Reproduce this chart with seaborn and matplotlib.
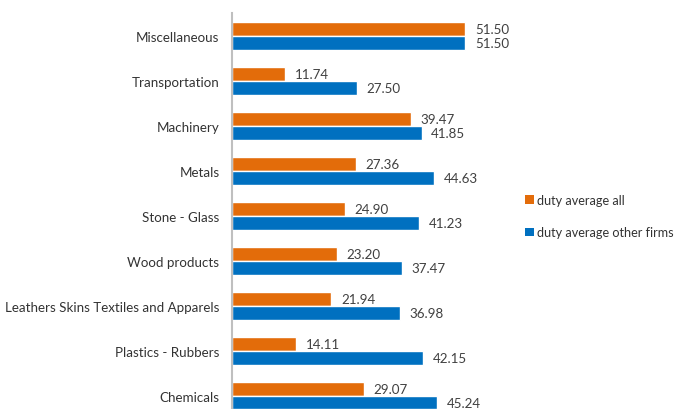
import pandas as pd
import matplotlib
matplotlib.use("Agg")
import matplotlib.pyplot as plt
import seaborn as sns
from matplotlib.patches import Patch

# chart data, top to bottom
categories = ["Miscellaneous", "Transportation", "Machinery", "Metals", "Stone - Glass",
              "Wood products", "Leathers Skins Textiles and Apparels", "Plastics - Rubbers",
              "Chemicals"]
duty_all = [51.50, 11.74, 39.47, 27.36, 24.90, 23.20, 21.94, 14.11, 29.07]
duty_other = [51.50, 27.50, 41.85, 44.63, 41.23, 37.47, 36.98, 42.15, 45.24]
series_names = ["duty average all", "duty average other firms"]
colors = ["#E36C0A", "#0070C0"]

df = pd.DataFrame({
    "Category": categories * 2,
    "Value": duty_all + duty_other,
    "Series": [series_names[0]] * len(categories) + [series_names[1]] * len(categories),
})

sns.set_style("white")
plt.rcParams["font.family"] = ["Lato", "DejaVu Sans"]

fig = plt.figure(figsize=(6.8, 4.1), dpi=100)
ax = fig.add_axes([0.341, -0.022, 0.42, 0.987])

sns.barplot(data=df, y="Category", x="Value", hue="Series", palette=colors,
            order=categories, hue_order=series_names, width=0.62, orient="h",
            legend=False, ax=ax, saturation=1)

for cont in ax.containers:
    ax.bar_label(cont, fmt="%.2f", padding=7, fontsize=9.6, color="#404040")

ax.set_xlim(0, 63)
ax.set_xlabel("")
ax.set_ylabel("")
ax.set_xticks([])
ax.tick_params(axis="y", length=0, pad=9, labelsize=9.6, labelcolor="#333333")
for s in ["top", "right", "bottom"]:
    ax.spines[s].set_visible(False)
ax.spines["left"].set_color("#BFBFBF")
ax.spines["left"].set_linewidth(1.5)

handles = [Patch(facecolor=c, edgecolor="none") for c in colors]
fig.legend(handles, series_names, loc="center left", bbox_to_anchor=(0.772, 0.47),
           frameon=False, fontsize=9.1, labelcolor="#333333",
           handlelength=0.7, handleheight=0.7, handletextpad=0.25, labelspacing=1.6,
           borderpad=0, borderaxespad=0)

fig.savefig("out.png", dpi=100)
